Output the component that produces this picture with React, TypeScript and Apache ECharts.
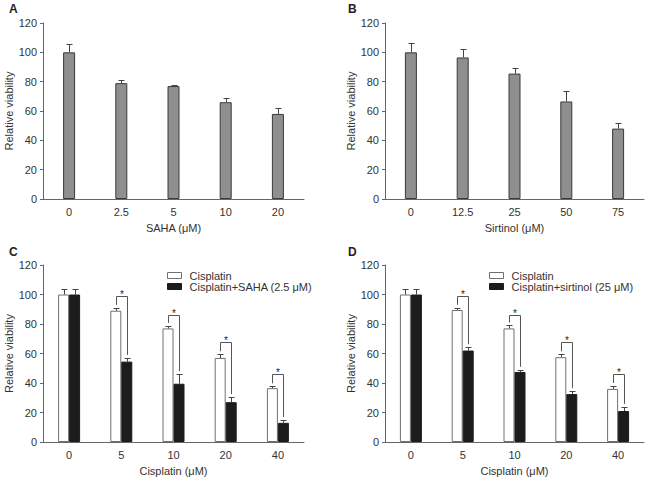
import React, { useEffect, useRef } from "react";
import * as echarts from "echarts";

// ---- Data ----
const catsA = ["0", "2.5", "5", "10", "20"];
const valsA = [100, 79, 77, 66, 58];
const sdA = [6, 2, 1, 3, 4];

const catsB = ["0", "12.5", "25", "50", "75"];
const valsB = [100, 96.5, 85.5, 66.5, 48];
const sdB = [6.5, 6, 3.5, 7, 3.5];

const catsCD = ["0", "5", "10", "20", "40"];
const cisC = [100, 89, 77, 57, 36.5];
const cisSdC = [3.5, 2, 1.7, 2.5, 1.3];
const sahaC = [100, 54.5, 39.5, 27, 13];
const sahaSdC = [3.5, 2.5, 6.5, 3.5, 2];
const bracketC = [null, 99, 86, 67.5, 46];

const cisD = [100, 89.5, 77, 57.5, 36];
const cisSdD = [3.5, 1.5, 2, 2, 2];
const sirD = [100, 62, 47.5, 32.5, 21];
const sirSdD = [3.5, 2.3, 1.5, 2, 2.8];
const bracketD = [null, 99, 86, 67.5, 46];

const yTicks = { min: 0, max: 120, interval: 20 };

const FONT = "Liberation Sans, Arial, Helvetica, sans-serif";
const TXT = "#333";
const AX = "#666";
const BW = 11;

function xAxisCfg(grid: number, cats: string[], name: string) {
  return {
    type: "category",
    gridIndex: grid,
    data: cats,
    name,
    nameLocation: "middle",
    nameGap: 23,
    nameTextStyle: { color: TXT, fontSize: 11, fontFamily: FONT },
    axisLine: { lineStyle: { color: AX, width: 1 } },
    axisTick: { length: 3, lineStyle: { color: AX } },
    axisLabel: { color: TXT, fontSize: 11, fontFamily: FONT, margin: 7 },
  };
}
function yAxisCfg(grid: number) {
  return {
    type: "value",
    gridIndex: grid,
    ...yTicks,
    name: "Relative viability",
    nameLocation: "middle",
    nameGap: 27,
    nameRotate: 90,
    nameTextStyle: { color: TXT, fontSize: 11, fontFamily: FONT },
    axisLine: { show: true, lineStyle: { color: AX, width: 1 } },
    axisTick: { show: true, length: 3, lineStyle: { color: AX } },
    axisLabel: { color: TXT, fontSize: 11, fontFamily: FONT, margin: 6 },
    splitLine: { show: false },
  };
}

function errSeries(idx: number, vals: number[], sds: number[], off: number) {
  return {
    type: "custom",
    xAxisIndex: idx,
    yAxisIndex: idx,
    z: 5,
    silent: true,
    itemStyle: { color: "#444" },
    data: vals.map((v, i) => [i, v, sds[i]]),
    encode: { x: 0, y: 1 },
    renderItem: (params: any, api: any) => {
      const i = api.value(0);
      const v = api.value(1);
      const s = api.value(2);
      const p0 = api.coord([i, v]);
      const p1 = api.coord([i, v + s]);
      const x = Math.round(p0[0] + off) + 0.5;
      const y1 = Math.round(p1[1]) + 0.5;
      const style = { stroke: "#444", lineWidth: 1 };
      return {
        type: "group",
        children: [
          { type: "line", shape: { x1: x, y1: p0[1], x2: x, y2: y1 }, style },
          { type: "line", shape: { x1: x - 3, y1: y1, x2: x + 3, y2: y1 }, style },
        ],
      };
    },
  };
}

function bracketSeries(idx: number, brk: (number | null)[], w: number[], wsd: number[], b: number[], bsd: number[]) {
  const data: number[][] = [];
  brk.forEach((t, i) => {
    if (t != null) data.push([i, t, w[i] + wsd[i] + 2, b[i] + bsd[i] + 2]);
  });
  return {
    type: "custom",
    xAxisIndex: idx,
    yAxisIndex: idx,
    z: 6,
    silent: true,
    itemStyle: { color: "#222" },
    data,
    encode: { x: 0, y: 1 },
    renderItem: (params: any, api: any) => {
      const i = api.value(0);
      const c = api.coord([i, api.value(1)]);
      const yl = api.coord([i, api.value(2)])[1];
      const yr = api.coord([i, api.value(3)])[1];
      const xw = Math.round(c[0] - BW / 2) + 0.5;
      const xb = Math.round(c[0] + BW / 2) + 0.5;
      const yt = Math.round(c[1]) + 0.5;
      return {
        type: "group",
        children: [
          {
            type: "polyline",
            shape: { points: [[xw, yl], [xw, yt], [xb, yt], [xb, yr]] },
            style: { stroke: "#555", lineWidth: 1, fill: null },
          },
          {
            type: "text",
            x: (xw + xb) / 2,
            y: yt + 3,
            style: {
              text: "*",
              fill: "#222",
              fontSize: 10,
              fontFamily: FONT,
              align: "center",
              verticalAlign: "bottom",
            },
          },
        ],
      };
    },
  };
}

const grayBar = { color: "#8f8f8f", borderColor: "#3a3a3a", borderWidth: 1 };
const whiteBar = { color: "#ffffff", borderColor: "#707070", borderWidth: 1 };
const blackBar = { color: "#1c1c1c", borderColor: "#1c1c1c", borderWidth: 1 };

function legendCfg(left: number, names: string[]) {
  return {
    orient: "vertical",
    left,
    top: 265,
    itemWidth: 14,
    itemHeight: 6,
    itemGap: 0,
    icon: "rect",
    selectedMode: false,
    itemStyle: { borderWidth: 1 },
    data: names,
    textStyle: { color: TXT, fontSize: 11, lineHeight: 11, fontFamily: FONT, padding: [0, 0, 0, 3] },
  };
}

export default function App() {
  const ref = useRef<HTMLDivElement>(null);
  useEffect(() => {
    if (!ref.current) return;
    const chart = echarts.init(ref.current, undefined, { renderer: "svg" });
    const option: any = {
      animation: false,
      backgroundColor: "#ffffff",
      textStyle: { fontFamily: FONT },
      grid: [
        { left: 43, top: 23, width: 261, height: 176 },
        { left: 385, top: 23, width: 259, height: 176 },
        { left: 43, top: 265, width: 261, height: 177 },
        { left: 385, top: 265, width: 259, height: 177 },
      ],
      xAxis: [
        xAxisCfg(0, catsA, "SAHA (μM)"),
        xAxisCfg(1, catsB, "Sirtinol (μM)"),
        xAxisCfg(2, catsCD, "Cisplatin (μM)"),
        xAxisCfg(3, catsCD, "Cisplatin (μM)"),
      ],
      yAxis: [yAxisCfg(0), yAxisCfg(1), yAxisCfg(2), yAxisCfg(3)],
      legend: [
        legendCfg(162, ["Cisplatin", "Cisplatin+SAHA (2.5 μM)"]),
        legendCfg(484, ["Cisplatin", "Cisplatin+sirtinol (25 μM)"]),
      ],
      graphic: [
        { type: "text", left: 9, top: 3, style: { text: "A", font: `bold 12px ${FONT}`, fill: "#222" } },
        { type: "text", left: 348, top: 3, style: { text: "B", font: `bold 12px ${FONT}`, fill: "#222" } },
        { type: "text", left: 9, top: 246, style: { text: "C", font: `bold 12px ${FONT}`, fill: "#222" } },
        { type: "text", left: 348, top: 246, style: { text: "D", font: `bold 12px ${FONT}`, fill: "#222" } },
      ],
      series: [
        { type: "bar", name: "SAHA", xAxisIndex: 0, yAxisIndex: 0, data: valsA, barWidth: 12, itemStyle: grayBar },
        errSeries(0, valsA, sdA, 0),
        { type: "bar", name: "Sirtinol", xAxisIndex: 1, yAxisIndex: 1, data: valsB, barWidth: 12, itemStyle: grayBar },
        errSeries(1, valsB, sdB, 0),

        { type: "bar", name: "Cisplatin", xAxisIndex: 2, yAxisIndex: 2, data: cisC, barWidth: BW, barGap: "0%", itemStyle: whiteBar },
        { type: "bar", name: "Cisplatin+SAHA (2.5 μM)", xAxisIndex: 2, yAxisIndex: 2, data: sahaC, barWidth: BW, barGap: "0%", itemStyle: blackBar },
        errSeries(2, cisC, cisSdC, -BW / 2),
        errSeries(2, sahaC, sahaSdC, BW / 2),
        bracketSeries(2, bracketC, cisC, cisSdC, sahaC, sahaSdC),

        { type: "bar", name: "Cisplatin", xAxisIndex: 3, yAxisIndex: 3, data: cisD, barWidth: BW, barGap: "0%", itemStyle: whiteBar },
        { type: "bar", name: "Cisplatin+sirtinol (25 μM)", xAxisIndex: 3, yAxisIndex: 3, data: sirD, barWidth: BW, barGap: "0%", itemStyle: blackBar },
        errSeries(3, cisD, cisSdD, -BW / 2),
        errSeries(3, sirD, sirSdD, BW / 2),
        bracketSeries(3, bracketD, cisD, cisSdD, sirD, sirSdD),
      ],
    };
    chart.setOption(option);
    return () => chart.dispose();
  }, []);
  return (
    <div
      ref={ref}
      style={{ position: "fixed", left: 0, top: 0, width: 646, height: 479, background: "#fff" }}
    />
  );
}
